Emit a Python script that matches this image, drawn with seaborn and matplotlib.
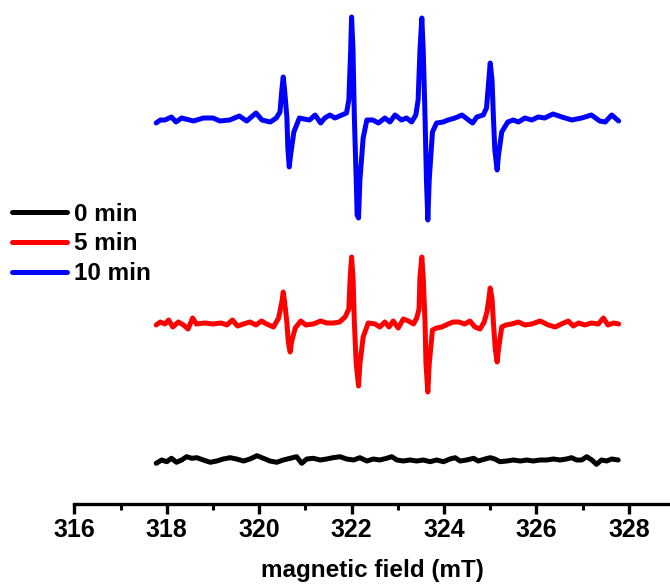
import numpy as np
import pandas as pd
import matplotlib
matplotlib.use("Agg")
import matplotlib.pyplot as plt
import seaborn as sns
from matplotlib.ticker import FixedLocator

# EPR spectra (magnetic field in mT, first-derivative signal in a.u.)
field_0 = [317.77, 317.89, 318.00, 318.10, 318.21, 318.32, 318.43, 318.54, 318.65, 318.79,
           318.94, 319.08, 319.22, 319.37, 319.51, 319.66, 319.80, 319.95, 320.09, 320.23,
           320.38, 320.52, 320.67, 320.81, 320.92, 321.03, 321.17, 321.32, 321.46, 321.60,
           321.75, 321.89, 322.04, 322.18, 322.33, 322.47, 322.61, 322.76,
           322.87, 322.98, 323.12, 323.26, 323.41, 323.55, 323.70, 323.84, 323.99, 324.13,
           324.24, 324.35, 324.49, 324.64, 324.74, 324.89, 325.00, 325.10, 325.21, 325.36,
           325.50, 325.65, 325.79, 325.93, 326.08, 326.22, 326.37, 326.51, 326.65, 326.76,
           326.87, 326.98, 327.09, 327.20, 327.30, 327.41, 327.52, 327.63, 327.77]
signal_0 = [-3.3, 0, -1.7, 1.7, -2.3, 0, 3.3, 1.7, 2.3, 0,
            -2.3, -1, 1, 2.3, 1, -1, 1, 4.3, 1.7, -1,
            -2.3, 0, 1.7, 3.3, -3.3, 1, 1.7, 0, 1, 2.3,
            3.3, 1, 0, 2.3, -1, 1, 0, 1.7,
            3.3, 0, -1, 0, -1, 0, -1.7, 0, -1.7, 1,
            2.3, -1, 0, 1.7, -1, 1, 2.3, 1, -1.7, -1,
            0, -1, 0, -1, 0, 0, 1, 0, 1, 2.3,
            0, 0, 3.3, 0, -4.3, 0, -1, 1, 0]

field_5 = [317.77, 317.86, 317.96, 318.04, 318.13, 318.25, 318.36, 318.46, 318.56, 318.64,
           318.82, 319.00, 319.18, 319.30, 319.42, 319.53, 319.66, 319.80, 319.93, 320.05,
           320.16, 320.31, 320.42, 320.49, 320.52, 320.55, 320.60, 320.63, 320.67, 320.70,
           320.78, 320.90, 321.01, 321.17, 321.33, 321.46, 321.61, 321.74, 321.86, 321.94,
           321.97, 322.00, 322.03, 322.06, 322.10, 322.15, 322.18, 322.25, 322.36, 322.51,
           322.61, 322.72, 322.81, 322.90, 323.01, 323.12, 323.23, 323.34, 323.41, 323.46,
           323.48, 323.52, 323.55, 323.59, 323.61, 323.65, 323.68, 323.75, 323.84, 323.95,
           324.09, 324.20, 324.32, 324.45, 324.56, 324.67, 324.78, 324.87, 324.93, 324.97,
           325.00, 325.04, 325.07, 325.11, 325.15, 325.18, 325.25, 325.34, 325.46, 325.61,
           325.75, 325.90, 326.08, 326.26, 326.41, 326.54, 326.69, 326.80, 326.91, 327.05,
           327.19, 327.34, 327.45, 327.55, 327.67, 327.78]
signal_5 = [-1, 2, 0, 4, -3, 2, -1, -5, 6, 0,
            1, 0, 1, -1, 4, -2, 0, 2, -1, 3,
            0, -3, 6, 22, 32, 22, 1, -18, -28, -18,
            -4, 3, -1, 0, 3, 1, 1, 2, 7, 15,
            47, 67, 47, 1, -40, -62, -40, -13, 1, 0,
            -3, 2, -3, 3, -4, 5, 3, 0, 6, 15,
            47, 67, 47, 1, -40, -68, -40, -6, -4, -3,
            0, 2, 2, 0, 3, -3, -5, 2, 12, 25,
            36, 25, 1, -25, -38, -25, -3, -1, 0, 2,
            -1, 0, 3, -1, -3, 0, 3, -2, 1, -1,
            1, 0, 6, -1, 1, 0]

field_10 = [317.77, 317.86, 317.96, 318.10, 318.20, 318.32, 318.58, 318.79, 319.00, 319.15,
            319.36, 319.57, 319.73, 319.93, 320.06, 320.24, 320.37, 320.45, 320.49, 320.52,
            320.55, 320.60, 320.62, 320.65, 320.68, 320.75, 320.87, 320.97, 321.09, 321.21,
            321.33, 321.42, 321.53, 321.64, 321.79, 321.89, 321.94, 321.98, 322.00, 322.03,
            322.06, 322.10, 322.12, 322.15, 322.18, 322.25, 322.33, 322.46, 322.58, 322.72,
            322.83, 322.94, 323.08, 323.19, 323.30, 323.39, 323.44, 323.48, 323.52, 323.55,
            323.59, 323.62, 323.65, 323.68, 323.75, 323.84, 323.98, 324.09, 324.24, 324.39,
            324.53, 324.62, 324.71, 324.85, 324.92, 324.97, 325.00, 325.04, 325.07, 325.10,
            325.15, 325.18, 325.25, 325.38, 325.50, 325.61, 325.75, 325.90, 326.04, 326.18,
            326.36, 326.55, 326.77, 326.98, 327.19, 327.37, 327.49, 327.63, 327.78]
signal_10 = [-3, 0, 0, 3, -2, 2, -1, 2, 2, -1,
             0, 4, -1, 7, 0, -2, 2, 8, 30, 43,
             30, 2, -28, -47, -35, -12, 2, 1, 0, 5,
             -3, 2, 5, 2, 5, 7, 20, 70, 103, 70,
             2, -60, -95, -98, -60, -18, 0, 0, -3, 2,
             -2, 5, 0, 2, -2, 5, 20, 70, 102, 70,
             2, -60, -100, -60, -12, -3, -2, 0, 2, 5,
             0, -3, 3, 5, 12, 40, 57, 40, 2, -30,
             -50, -35, -12, -2, 0, -2, 2, 0, 3, 2,
             6, 3, 0, 2, 5, -1, -2, 5, -1]

labels = ["0 min", "5 min", "10 min"]
colors = ["#000000", "#ff0000", "#0000ff"]
# vertical stacking of the traces
offsets = [44, 180, 384]

major_ticks = [316, 318, 320, 322, 324, 326, 328]
minor_ticks = [317, 319, 321, 323, 325, 327]

sns.set_theme(style="ticks")
plt.rcParams["font.family"] = ["Liberation Sans", "DejaVu Sans"]
plt.rcParams["font.weight"] = "bold"
plt.rcParams["text.color"] = "black"
plt.rcParams["axes.labelcolor"] = "black"
plt.rcParams["xtick.color"] = "black"

frames = []
for lab, f, s, off in zip(labels,
                          [field_0, field_5, field_10],
                          [signal_0, signal_5, signal_10],
                          offsets):
    frames.append(pd.DataFrame({"field": f,
                                "signal": np.asarray(s, dtype=float) + off,
                                "time": lab}))
df = pd.concat(frames, ignore_index=True)

fig = plt.figure(figsize=(6.7, 5.85), dpi=100)
ax = fig.add_axes([74.4 / 670, 81 / 585, 595.6 / 670, 504 / 585])

sns.lineplot(data=df, x="field", y="signal", hue="time", hue_order=labels,
             palette=dict(zip(labels, colors)), estimator=None, sort=False,
             linewidth=3.6, solid_joinstyle="round", solid_capstyle="round", ax=ax)

ax.set_xlim(316, 316 + 595.6 / 46.2)
ax.set_ylim(0, 504)
ax.set_yticks([])
ax.set_ylabel("")
for side in ["top", "right", "left"]:
    ax.spines[side].set_visible(False)
ax.spines["bottom"].set_linewidth(2.4)
ax.spines["bottom"].set_color("black")

ax.xaxis.set_major_locator(FixedLocator(major_ticks))
ax.xaxis.set_minor_locator(FixedLocator(minor_ticks))
ax.tick_params(axis="x", which="major", direction="out", length=7.5, width=2.4,
               pad=2.5, labelsize=18, bottom=True)
ax.tick_params(axis="x", which="minor", direction="out", length=4.5, width=2.2,
               bottom=True)
for t in ax.get_xticklabels():
    t.set_fontweight("bold")

ax.set_xlabel("magnetic field (mT)", fontsize=17.5, fontweight="bold")
ax.xaxis.set_label_coords(0.5, -0.11)

handles, labs = ax.get_legend_handles_labels()
if ax.get_legend() is not None:
    ax.get_legend().remove()
leg = fig.legend(handles, labs, loc="center left", bbox_to_anchor=(12 / 670, 1 - 244 / 585),
                 frameon=False, prop={"weight": "bold", "size": 17.5},
                 handlelength=2.25, handletextpad=0.3, labelspacing=0.28,
                 borderpad=0, borderaxespad=0)
for line in leg.get_lines():
    line.set_linewidth(3.6)
    line.set_solid_capstyle("round")

fig.savefig("out.png", dpi=100, facecolor="white")
